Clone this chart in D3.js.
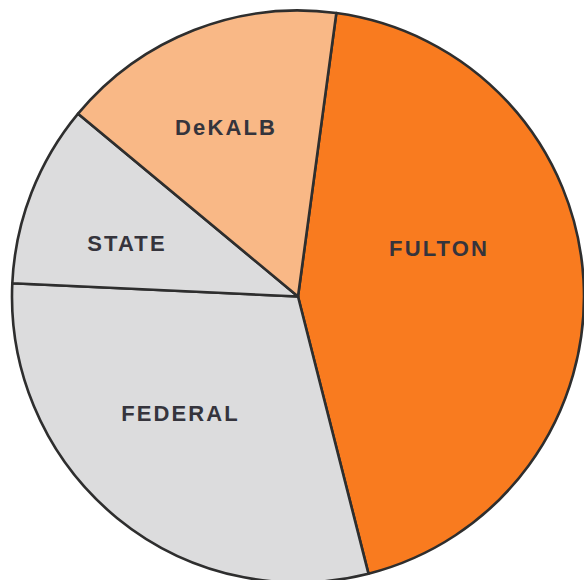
<!DOCTYPE html>
<html>
<head>
<meta charset="utf-8">
<script src="https://cdn.jsdelivr.net/npm/d3@7"></script>
<style>
  html, body { margin: 0; padding: 0; background: #fff; }
  svg { display: block; }
</style>
</head>
<body>
<div class="chart"></div>
<script>
const svgWidth = 584
const svgHeight = 580

// shares of the pie (percent), clockwise starting just right of 12 o'clock
const categories = ["FULTON", "FEDERAL", "STATE", "DeKALB"]
const shares = [43.9, 29.7, 10.3, 16.1]
const colors = ["#f97b1f", "#dcdcdd", "#dcdcdd", "#f9b886"]

// label offsets from the centre, px (layout only)
const labelOffsets = [[141, -48.5], [-117.5, 116.5], [-171, -53], [-72, -169.5]]

const cx = 298
const cy = 296.5
const radius = 286
const startDeg = 7.7

let svg = d3
  .select(".chart")
  .append("svg")
  .attr("width", svgWidth)
  .attr("height", svgHeight)

let pieGroup = svg.append("g")
  .attr("transform", `translate(${cx}, ${cy})`)

let pie = d3.pie()
  .sort(null)
  .value(d => d)
  .startAngle(startDeg * Math.PI / 180)
  .endAngle(startDeg * Math.PI / 180 + 2 * Math.PI)

let arc = d3.arc()
  .innerRadius(0)
  .outerRadius(radius)

let arcs = pie(shares)

pieGroup.selectAll("path")
  .data(arcs)
  .enter()
  .append("path")
  .attr("d", arc)
  .attr("fill", (d, i) => colors[i])
  .attr("stroke", "#2e2e2e")
  .attr("stroke-width", 2.6)
  .attr("stroke-linejoin", "round")

pieGroup.selectAll("text")
  .data(arcs)
  .enter()
  .append("text")
  .attr("x", (d, i) => labelOffsets[i][0])
  .attr("y", (d, i) => labelOffsets[i][1])
  .attr("dy", "0.36em")
  .attr("text-anchor", "middle")
  .attr("font-family", "'Liberation Sans', Arial, sans-serif")
  .attr("font-weight", "bold")
  .attr("font-size", 22)
  .attr("letter-spacing", 2.1)
  .attr("fill", "#35343c")
  .text((d, i) => categories[i])
</script>
</body>
</html>
